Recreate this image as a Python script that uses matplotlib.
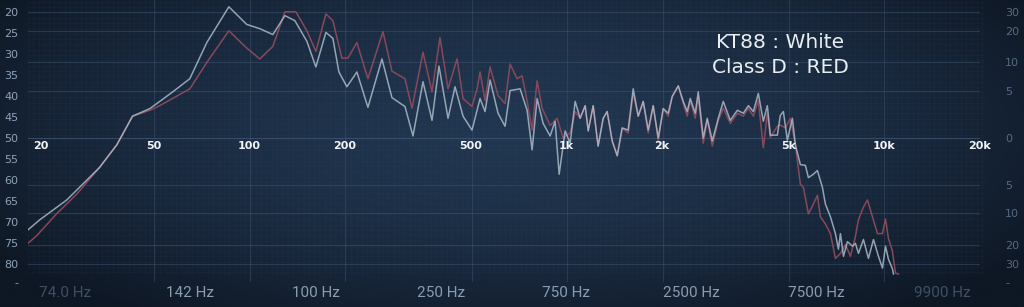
import numpy as np
import matplotlib
matplotlib.use("Agg")
import matplotlib.pyplot as plt

# response of the KT88 amp (white trace): frequency in Hz, level in dB below reference
white_freq = [20, 21.8, 26.5, 29.7, 33.6, 38.1, 42.7, 48.4, 52, 57.2, 64.7, 73.2, 85.9, 97.8,
              107.5, 118.2, 129, 138.7, 151.3, 161.5, 173.7, 182.7, 190.9, 202.3, 217.5, 235.6,
              260.9, 280.5, 308.3, 326.7, 351.4, 375.1, 394.6, 421.3, 443.4, 469.8, 501.5, 531.6,
              551.2, 571.6, 605.7, 637.4, 661, 710.8, 747.9, 775.5, 804.3, 840, 883.9, 916.4,
              943.7, 985.6, 1022, 1060, 1099, 1140, 1165, 1208, 1252, 1299, 1337, 1387, 1438,
              1491, 1557, 1615, 1675, 1737, 1801, 1867, 1937, 2008, 2082, 2144, 2240, 2322, 2390,
              2443, 2534, 2589, 2685, 2764, 2867, 2994, 3105, 3267, 3438, 3591, 3724, 3862, 4004,
              4152, 4274, 4369, 4597, 4698, 4802, 4943, 5126, 5239, 5433, 5634, 5758, 5970, 6146,
              6374, 6515, 6756, 7006, 7160, 7265, 7425, 7644, 7927, 8098, 8279, 8585, 8902, 9233,
              9574, 9856, 10074, 10295, 10597, 10675]
white_db = [71.8, 69.4, 64.7, 61.0, 57.0, 51.6, 44.8, 43.0, 41.3, 39.0, 35.9, 27.3, 18.8, 23.0,
            24.0, 25.4, 20.9, 22.1, 27.0, 33.1, 24.9, 26.3, 34.3, 37.8, 34.3, 42.7,
            31.2, 40.4, 42.5, 49.5, 36.6, 45.8, 32.9, 45.3, 37.8, 44.8, 48.1, 40.6,
            43.7, 36.2, 44.1, 47.2, 38.7, 38.3, 43.4, 52.8, 40.6, 46.5, 49.5, 46.0,
            58.6, 48.3, 51.2, 41.3, 45.3, 42.3, 48.3, 42.3, 51.9, 45.3, 43.7, 50.7, 54.2,
            47.6, 48.1, 38.3, 44.8, 41.3, 48.1, 42.3, 50.0, 43.0, 44.1, 40.1, 37.6, 41.3, 43.7,
            40.6, 44.1, 39.0, 50.0, 45.3, 50.7, 45.3, 41.3, 45.8, 43.4, 44.1, 42.3, 43.7, 39.4,
            46.0, 42.3, 49.3, 49.3, 44.6, 43.7, 50.5, 45.3, 51.6, 56.3, 56.5, 59.4, 58.6, 57.7,
            61.7, 65.7, 68.7, 72.7, 76.4, 72.7, 78.1, 74.6, 75.7, 75.0, 77.4, 74.1, 78.6, 74.1,
            78.1, 80.9, 75.7, 78.8, 81.1, 82.3]

# response of the Class D amp (red trace)
red_freq = [20, 21.3, 24.6, 28.5, 33.6, 38.1, 42.7, 48.4, 52, 64.7, 73.7, 85.9, 97.1, 107.5,
            118.2, 129, 139.7, 151.3, 161.5, 173.7, 182.7, 195.1, 203.8, 217.5, 235.6, 262.8,
            280.5, 308.3, 324.4, 351.4, 375.1, 397.5, 421.3, 449.9, 469.8, 501.5, 520.1, 531.6,
            551.2, 571.6, 605.7, 637.4, 661, 695.5, 721.2, 747.9, 775.5, 804.3, 833.9, 883.9,
            930, 971.4, 1022, 1060, 1099, 1140, 1165, 1208, 1252, 1299, 1337, 1387, 1438, 1491,
            1557, 1615, 1675, 1737, 1801, 1867, 1937, 2008, 2082, 2144, 2240, 2322, 2390, 2443,
            2534, 2589, 2685, 2764, 2867, 2994, 3105, 3267, 3438, 3591, 3724, 3862, 4004, 4152,
            4274, 4369, 4597, 4698, 4872, 5052, 5239, 5433, 5553, 5758, 5970, 6146, 6282, 6515,
            6756, 7006, 7265, 7534, 7812, 8098, 8279, 8585, 8838, 9165, 9504, 9856, 10074,
            10295, 10597, 10832, 11070]
red_db = [75.0, 73.2, 68.0, 63.3, 57.0, 51.6, 44.8, 43.4, 42.3, 38.3, 31.7, 24.5, 28.4, 31.2,
          28.2, 20.0, 20.0, 24.5, 29.4, 20.5, 22.1, 31.0, 31.0, 27.3, 35.9, 24.7,
          34.1, 35.9, 42.9, 29.6, 39.0, 26.1, 38.3, 31.2, 40.6, 42.5, 38.3, 34.3,
          41.1, 33.1, 39.9, 41.8, 32.4, 35.9, 35.2, 41.1, 48.1, 36.4, 42.9, 47.0,
          45.3, 50.0, 48.8, 43.7, 45.3, 42.3, 48.3, 42.3, 51.9, 45.3, 43.7, 50.7, 54.2, 47.6,
          48.8, 39.4, 44.8, 41.3, 48.8, 42.3, 50.7, 43.0, 44.8, 40.1, 37.6, 41.8, 44.8, 41.1,
          45.3, 40.1, 51.2, 45.8, 51.9, 45.8, 42.9, 46.5, 44.1, 44.8, 42.9, 44.8, 41.1, 52.3,
          44.1, 49.8, 47.2, 46.9, 47.6, 45.3, 51.6, 61.0, 61.7, 68.0, 65.7, 63.6, 68.7, 70.4,
          72.7, 78.6, 77.4, 75.3, 78.1, 73.4, 69.4, 66.4, 64.7, 68.7, 72.7, 72.7, 69.2,
          73.9, 76.9, 82.1, 82.3]

left_ticks = [20, 25, 30, 35, 40, 45, 50, 55, 60, 65, 70, 75, 80]
# right hand scale of the analyser, placed against the left dB scale
right_pos = [20, 24.45, 31.9, 38.7, 50, 61.2, 67.8, 75.3, 80]
right_labels = ["30", "20", "10", "5", "0", "5", "10", "20", "30"]
freq_ticks = [20, 50, 100, 200, 500, 1000, 2000, 5000, 10000, 20000]
freq_labels = ["20", "50", "100", "200", "500", "1k", "2k", "5k", "10k", "20k"]
preset_labels = ["74.0 Hz", "142 Hz", "100 Hz", "250 Hz", "750 Hz", "2500 Hz", "7500 Hz", "9900 Hz"]

W, H = 1024, 307
fig = plt.figure(figsize=(W / 100, H / 100), dpi=100)
fig.patch.set_facecolor("#101a28")

# background vignette
bg = fig.add_axes([0, 0, 1, 1], zorder=0)
gy, gx = np.mgrid[0:1:200j, 0:1:600j]
r = np.sqrt(((gx - 0.5) / 0.62) ** 2 + ((gy - 0.42) / 0.75) ** 2)
t = np.clip(r, 0, 1) ** 1.6
c0 = np.array([0x21, 0x36, 0x50]) / 255
c1 = np.array([0x0e, 0x17, 0x24]) / 255
img = c0[None, None, :] * (1 - t[..., None]) + c1[None, None, :] * t[..., None]
bg.imshow(img, extent=[0, 1, 0, 1], aspect="auto", origin="upper")
# fine mesh
for xv in np.arange(28, 984, 5.3):
    bg.plot([xv / W, xv / W], [1 - 275 / H, 1], color="#3b5270", lw=0.4, alpha=0.15)
for yv in np.arange(2, 276, 5.3):
    bg.plot([28 / W, 983 / W], [1 - yv / H, 1 - yv / H], color="#3b5270", lw=0.4, alpha=0.15)
bg.set_xlim(0, 1)
bg.set_ylim(0, 1)
bg.axis("off")

ax_top, ax_bot = 0, 282
ax = fig.add_axes([28 / W, 1 - ax_bot / H, 952 / W, (ax_bot - ax_top) / H], zorder=2)
ax.set_facecolor("none")
ax.set_xscale("log")
ax.set_xlim(20, 20000)
ax.set_ylim(20 + (ax_bot - 12) / 4.27, 20 - 12 / 4.27)
for s in ax.spines.values():
    s.set_visible(False)

grid_col = "#3e5570"
for f in freq_ticks[1:-1]:
    ax.axvline(f, ymin=-0.03, color=grid_col, lw=0.8, alpha=0.45)
for p in right_pos:
    ax.axhline(p, xmax=1.003, color=grid_col, lw=0.8, alpha=0.5 if p != 50 else 0.8)

ax.plot(red_freq, red_db, color="#8e4a5c", lw=1.1, alpha=0.95, solid_joinstyle="round")
ax.plot(white_freq, white_db, color="#b3c2d0", lw=1.1, alpha=0.8, solid_joinstyle="round")

ax.set_yticks(left_ticks + [84.2])
ax.set_yticklabels([str(v) for v in left_ticks] + ["-"])
ax.tick_params(axis="y", length=0, pad=7, labelsize=8, labelcolor="#8fa2b8")
ax.set_xticks([])
ax.xaxis.set_minor_locator(matplotlib.ticker.NullLocator())

axr = ax.twinx()
axr.set_ylim(ax.get_ylim())
axr.set_yticks(right_pos + [84.2])
axr.set_yticklabels(right_labels + ["-"])
axr.tick_params(axis="y", length=0, pad=18, labelsize=8, labelcolor="#566a82")
for s in axr.spines.values():
    s.set_visible(False)

for f, lab in zip(freq_ticks, freq_labels):
    if f == 20:
        ax.annotate(lab, (f, 51.9), xytext=(4, 0), textcoords="offset points",
                    ha="left", va="center", color="#f2f5f8", fontsize=8, fontweight="bold")
    else:
        ax.text(f * 0.995, 51.9, lab, ha="center", va="center", color="#f2f5f8",
                fontsize=8, fontweight="bold")

ax.text(0.79, 0.85, "KT88 : White", transform=ax.transAxes, ha="center", va="center",
        color="#e9eef3", fontsize=14.5, family="DejaVu Sans")
ax.text(0.79, 0.76, "Class D : RED", transform=ax.transAxes, ha="center", va="center",
        color="#e9eef3", fontsize=14.5, family="DejaVu Sans")

for i, lab in enumerate(preset_labels):
    col = "#3e4f64" if i in (0, len(preset_labels) - 1) else "#8a9cb2"
    fig.text((65 + 125.3 * i) / W, 1 - 293 / H, lab, ha="center", va="center",
             color=col, fontsize=11, family="Roboto")

fig.savefig("out.png", dpi=100, facecolor=fig.get_facecolor())
